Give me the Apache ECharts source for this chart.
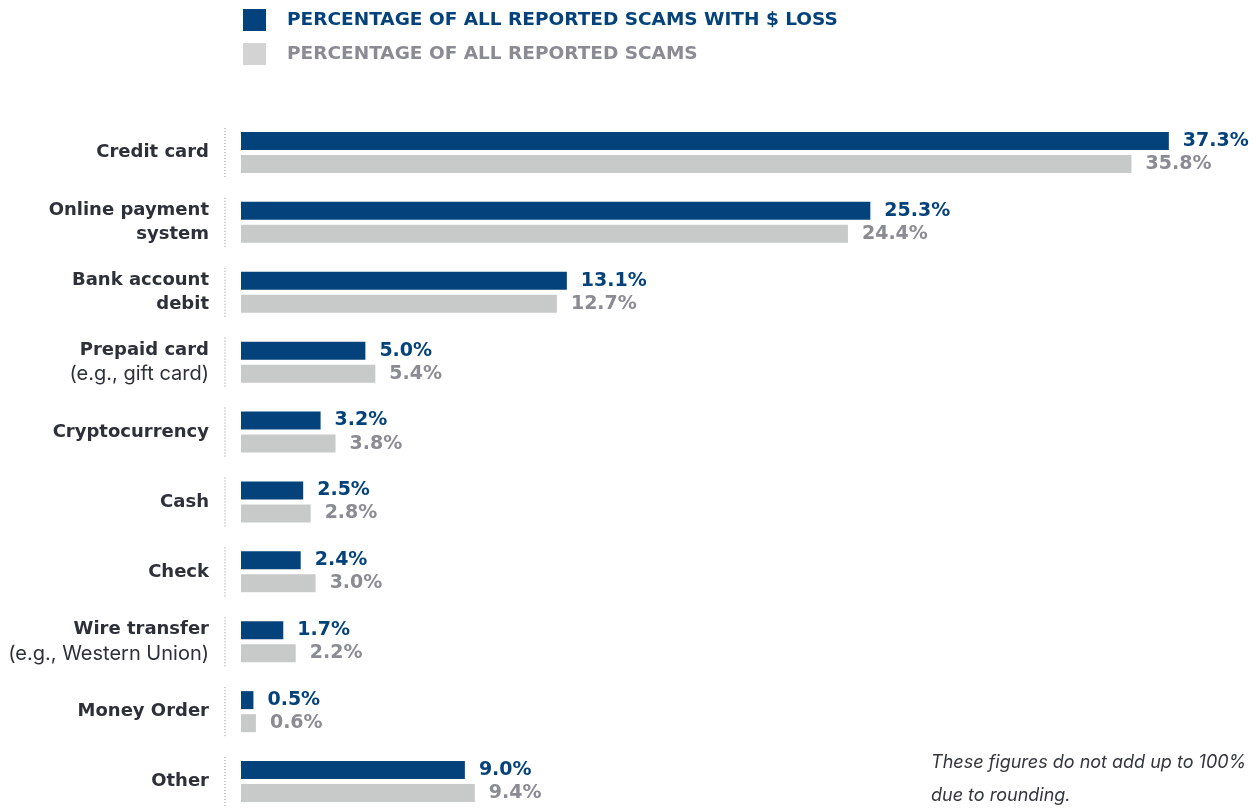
<!DOCTYPE html>
<html>
<head>
<meta charset="utf-8">
<style>
  html, body { margin: 0; padding: 0; background: #ffffff; overflow: hidden; }
  #chart { width: 1258px; height: 830px; }
</style>
<script src="https://cdn.jsdelivr.net/npm/echarts@6/dist/echarts.min.js"></script>
</head>
<body>
<div id="chart"></div>
<script>
// Payment methods, top to bottom
const categories = [
  'Credit card',
  'Online payment\nsystem',
  'Bank account\ndebit',
  'Prepaid card',
  'Cryptocurrency',
  'Cash',
  'Check',
  'Wire transfer',
  'Money Order',
  'Other'
];
// Secondary (regular-weight) line under a category name
const categoryNotes = ['', '', '', '(e.g., gift card)', '', '', '', '(e.g., Western Union)', '', ''];

const seriesNames = [
  'PERCENTAGE OF ALL REPORTED SCAMS WITH $ LOSS',
  'PERCENTAGE OF ALL REPORTED SCAMS'
];
const withLoss = [37.3, 25.3, 13.1, 5.0, 3.2, 2.5, 2.4, 1.7, 0.5, 9.0];
const allReported = [35.8, 24.4, 12.7, 5.4, 3.8, 2.8, 3.0, 2.2, 0.6, 9.4];

const footnote = 'These figures do not add up to 100%\ndue to rounding.';

const NAVY = '#04427b';
const GREY_BAR = '#c8c9c9';
const GREY_TEXT = '#8a8b93';
const LABEL_TEXT = '#2e3039';
const BOLD_FONT = '"DejaVu Sans", Inter, sans-serif';
const TEXT_FONT = 'Inter, Roboto, sans-serif';

const chart = echarts.init(document.getElementById('chart'), null, { renderer: 'canvas' });

function categoryLabel(value, idx) {
  const lines = value.split('\n').map(s => '{b|' + s + '}');
  if (categoryNotes[idx]) lines.push('{n|' + categoryNotes[idx] + '}');
  return lines.join('\n');
}

// Dotted tick segment beside each category group
function dottedSegment(params, api) {
  const c = api.coord([0, api.value(1)]);
  const x = c[0] - 16;
  const half = 24.5;
  return {
    type: 'line',
    shape: { x1: x, y1: c[1] - half, x2: x, y2: c[1] + half },
    style: { stroke: '#8f9096', lineWidth: 1, lineDash: [1, 2] },
    silent: true
  };
}

function valueLabel(color) {
  return {
    show: true,
    position: 'right',
    distance: 14,
    formatter: p => p.value.toFixed(1) + '%',
    fontFamily: BOLD_FONT,
    fontSize: 19,
    fontWeight: 700,
    color: color
  };
}

const option = {
  backgroundColor: '#ffffff',
  animation: false,
  legend: {
    orient: 'vertical',
    left: 238,
    top: 4,
    itemWidth: 23,
    itemHeight: 22,
    itemGap: 12,
    icon: 'rect',
    selectedMode: false,
    textStyle: { fontFamily: BOLD_FONT, fontSize: 18.5, fontWeight: 700, padding: [3, 0, 0, 16] },
    data: [
      { name: seriesNames[0], itemStyle: { color: NAVY }, textStyle: { color: NAVY } },
      { name: seriesNames[1], itemStyle: { color: '#d3d3d3' }, textStyle: { color: GREY_TEXT } }
    ]
  },
  grid: { left: 241, top: 117.5, width: 995, height: 699, containLabel: false },
  xAxis: {
    type: 'value',
    min: 0,
    max: 40,
    show: false
  },
  yAxis: {
    type: 'category',
    data: categories,
    inverse: true,
    axisLine: { show: false },
    axisTick: { show: false },
    splitLine: { show: false },
    axisLabel: {
      margin: 32,
      formatter: categoryLabel,
      rich: {
        b: { fontFamily: BOLD_FONT, fontSize: 18, fontWeight: 700, color: LABEL_TEXT, lineHeight: 24, align: 'right' },
        n: { fontFamily: TEXT_FONT, fontSize: 20, fontWeight: 400, color: LABEL_TEXT, lineHeight: 24, align: 'right' }
      }
    }
  },
  series: [
    {
      name: seriesNames[0],
      type: 'bar',
      data: withLoss,
      barWidth: 18,
      barGap: '28%',
      itemStyle: { color: NAVY },
      label: valueLabel(NAVY)
    },
    {
      name: seriesNames[1],
      type: 'bar',
      data: allReported,
      barWidth: 18,
      barGap: '28%',
      itemStyle: { color: GREY_BAR },
      label: valueLabel(GREY_TEXT)
    },
    {
      type: 'custom',
      silent: true,
      clip: false,
      renderItem: dottedSegment,
      data: categories.map(c => [0, c]),
      encode: { x: 0, y: 1 },
      z: 1
    }
  ],
  graphic: [
    {
      type: 'text',
      left: 931,
      top: 746,
      style: {
        text: footnote,
        fontFamily: TEXT_FONT,
        fontSize: 18,
        fontStyle: 'italic',
        fontWeight: 400,
        lineHeight: 33,
        fill: '#34363d'
      }
    }
  ]
};

chart.setOption(option);
</script>
</body>
</html>
